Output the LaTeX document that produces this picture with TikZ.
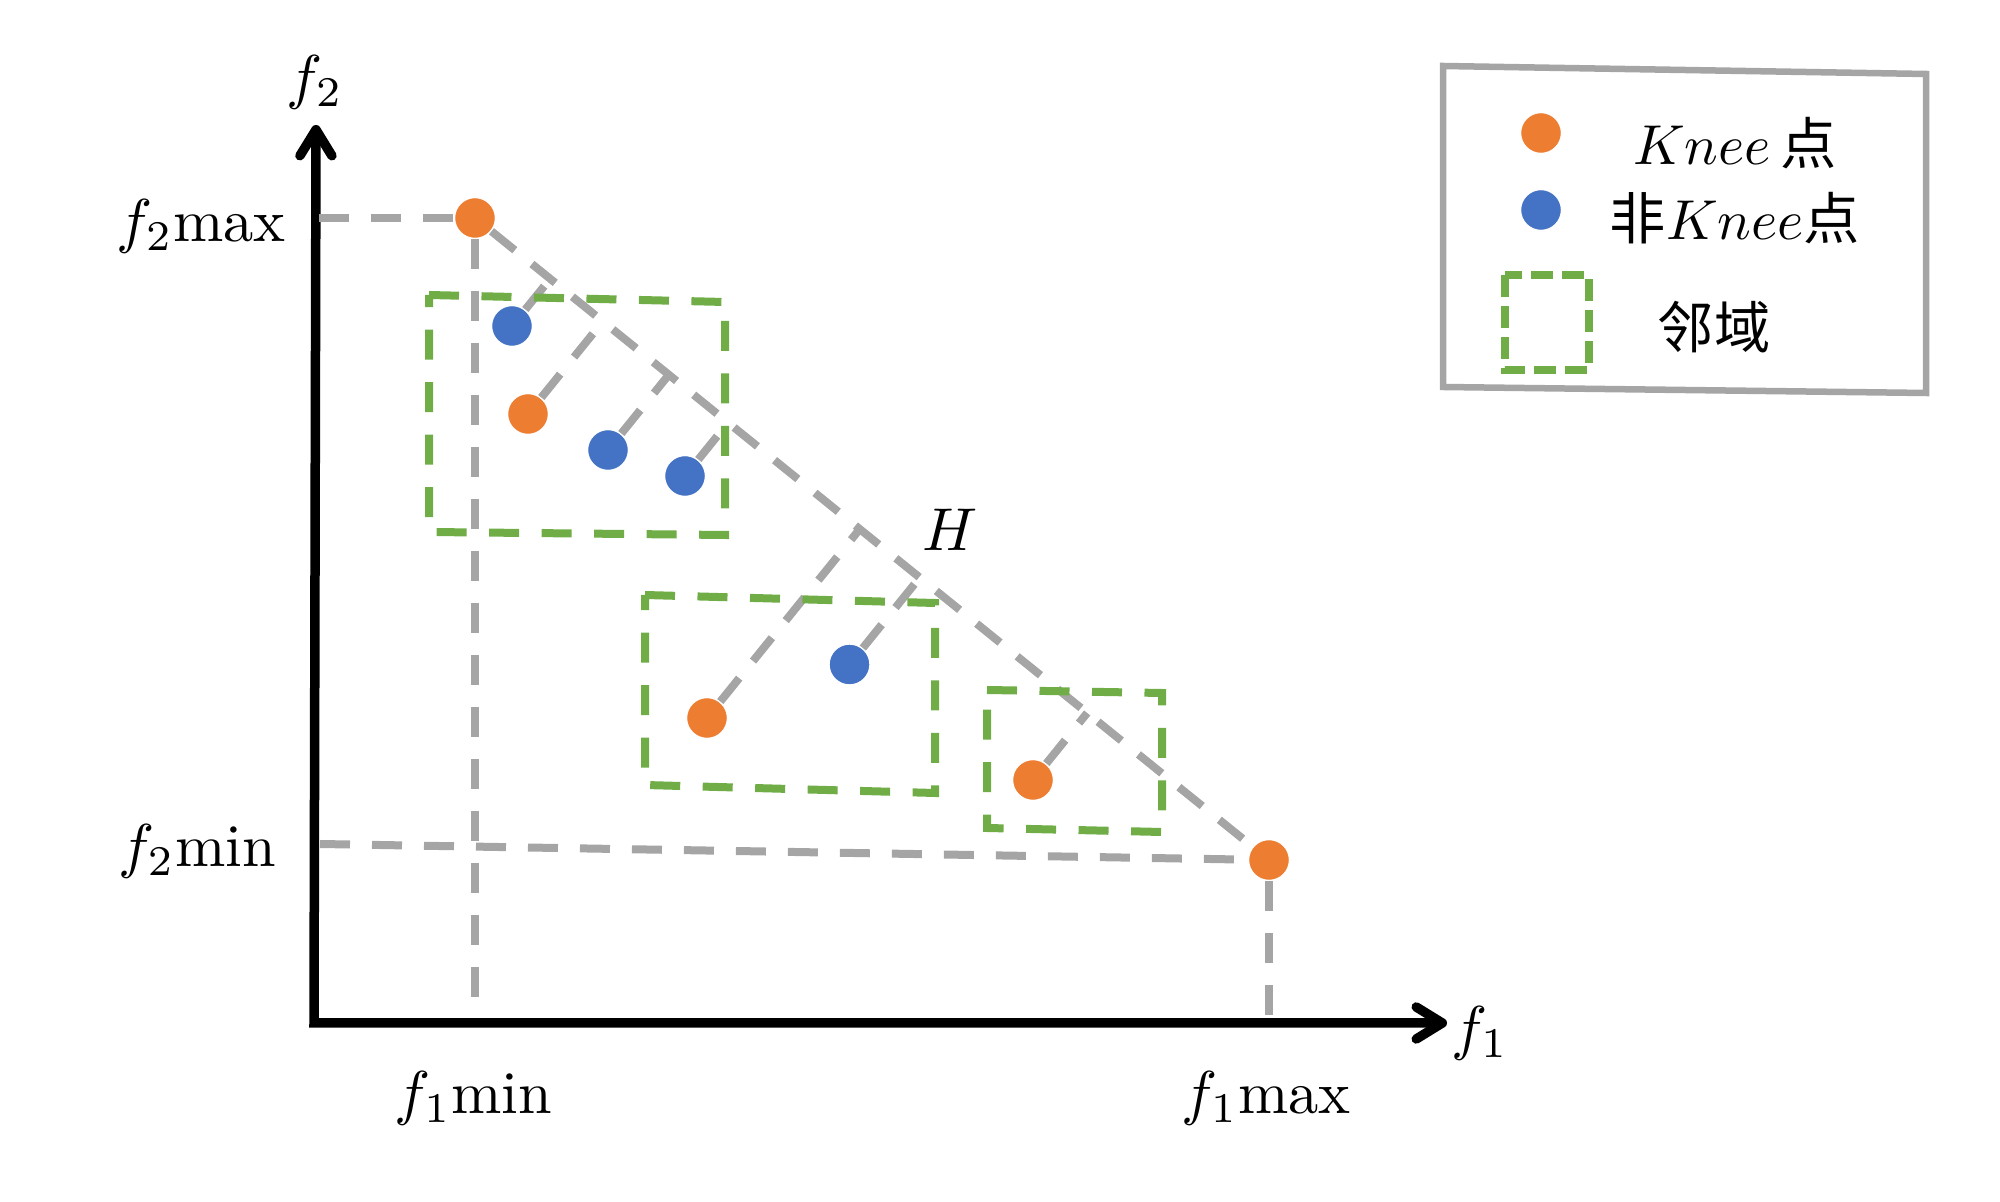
\documentclass[tikz,border=0pt]{standalone}
\usepackage{fontspec}
\newfontfamily\cjk{Noto Sans CJK SC}
\usetikzlibrary{arrows.meta,calc}
\definecolor{korange}{HTML}{ED7D31}
\definecolor{kblue}{HTML}{4472C4}
\definecolor{kgreen}{HTML}{70AD47}
\definecolor{kgray}{HTML}{A5A5A5}
\begin{document}
\begin{tikzpicture}[
  x=1cm,y=1cm,
  font=\fontsize{10}{12}\selectfont,
  axisline/.style={line width=0.095cm},
  gdash/.style={draw=kgray, line width=0.08cm, dash pattern=on 0.3cm off 0.22cm},
  nbox/.style={draw=kgreen, line width=0.08cm, dash pattern=on 0.3cm off 0.225cm},
  kpt/.style={circle, fill=korange, draw=white, line width=0.4pt, minimum size=0.41cm, inner sep=0},
  npt/.style={circle, fill=kblue, draw=white, line width=0.4pt, minimum size=0.41cm, inner sep=0},
  lbl/.style={inner sep=0, scale=1.72, transform shape},
  legtext/.style={inner sep=0, scale=1.6, transform shape}
]
\useasboundingbox (0,0) rectangle (20,-12.02);

% points
\node[kpt] (t0) at (4.75,-2.18) {};
\node[kpt] (t1) at (12.69,-8.60) {};
\node[npt] (b1) at (5.12,-3.26) {};
\node[kpt] (k2) at (5.28,-4.14) {};
\node[npt] (b2) at (6.08,-4.50) {};
\node[npt] (b3) at (6.85,-4.76) {};
\node[npt] (b4) at (8.495,-6.645) {};
\node[kpt] (k3) at (7.07,-7.18) {};
\node[kpt] (k4) at (10.33,-7.80) {};

% axes
\coordinate (o) at (3.14,-10.23);
\coordinate (ytip) at (3.16,-1.25);
\coordinate (xtip) at (14.47,-10.23);
\draw[axisline, {Straight Barb[length=0.26cm,width=0.32cm,round]}-{Straight Barb[length=0.26cm,width=0.32cm,round]}] (ytip) -- (o) -- (xtip);

% gray dashed guide lines
\coordinate (a2max) at (3.19,-2.18);
\coordinate (a1min) at (4.75,-10.17);
\coordinate (a2min) at (3.20,-8.44);
\coordinate (a1max) at (12.69,-10.17);
\draw[gdash] (a2max) -- (t0);
\draw[gdash] (t0) -- (a1min);
\draw[gdash] (a2min) -- (t1);
\draw[gdash] (t1) -- (a1max);
\draw[gdash] (t0) -- (t1);
\foreach \p in {b1,k2,b2,b3,b4,k3,k4}
  \draw[gdash] (\p) -- ($(t0)!(\p)!(t1)$);

% neighbourhood boxes
\draw[nbox] (4.29,-2.95) -- (7.25,-3.02) -- (7.25,-5.35) -- (4.29,-5.32) -- cycle;
\draw[nbox] (6.45,-5.95) -- (9.35,-6.03) -- (9.35,-7.93) -- (6.45,-7.85) -- cycle;
\draw[nbox] (9.87,-6.90) -- (11.62,-6.93) -- (11.62,-8.32) -- (9.87,-8.28) -- cycle;

% labels
\node[lbl] (lf2) at (3.15,-0.82) {$f_2$};
\node[lbl] (lf1) at (14.80,-10.33) {$f_1$};
\node[lbl, anchor=east] (lf2max) at (2.87,-2.265) {$f_2\mathrm{max}$};
\node[lbl, anchor=east] (lf2min) at (2.77,-8.51) {$f_2\mathrm{min}$};
\node[lbl] (lf1min) at (4.735,-10.98) {$f_1\mathrm{min}$};
\node[lbl] (lf1max) at (12.66,-10.98) {$f_1\mathrm{max}$};
\node[lbl] (lH) at (9.50,-5.30) {$H$};

% legend
\draw[draw=kgray, line width=0.065cm] (14.43,-0.66) -- (19.26,-0.74) -- (19.26,-3.93) -- (14.43,-3.87) -- cycle;
\node[kpt] (lk) at (15.41,-1.33) {};
\node[npt] (ln) at (15.41,-2.10) {};
\draw[draw=kgreen, line width=0.075cm, dash pattern=on 0.22cm off 0.09cm] (15.05,-2.75) rectangle (15.89,-3.70);
\node[legtext] (lt1) at (17.35,-1.43) {$Knee$\,{\cjk 点}};
\node[legtext] (lt2) at (17.35,-2.18) {{\cjk 非}$Knee${\cjk 点}};
\node[legtext] (lt3) at (17.14,-3.27) {\cjk 邻域};
\end{tikzpicture}
\end{document}
